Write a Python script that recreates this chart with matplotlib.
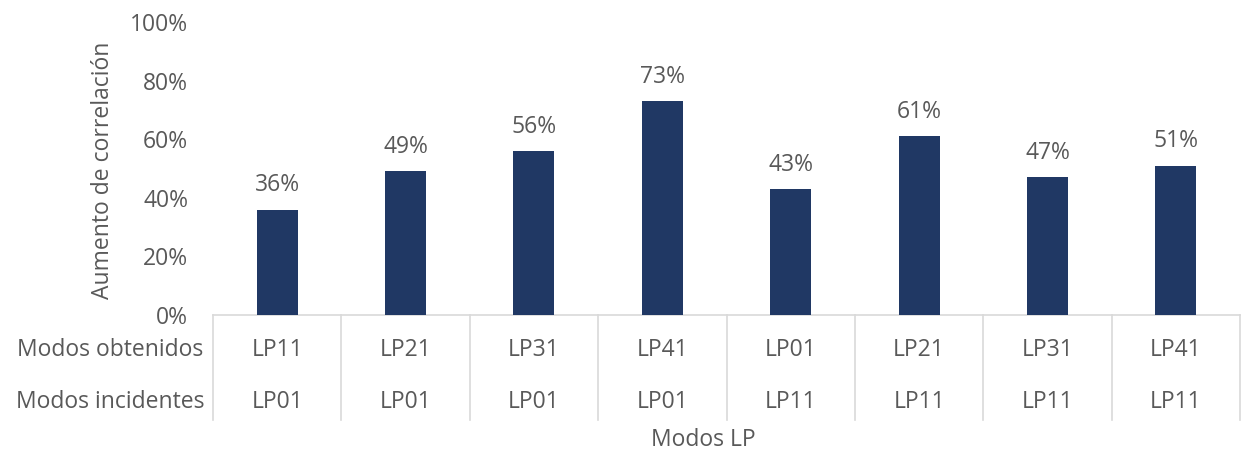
import matplotlib
matplotlib.use("Agg")
import matplotlib.pyplot as plt
import matplotlib.transforms as mtransforms

obtenidos = ["LP11", "LP21", "LP31", "LP41", "LP01", "LP21", "LP31", "LP41"]
incidentes = ["LP01", "LP01", "LP01", "LP01", "LP11", "LP11", "LP11", "LP11"]
values = [36, 49, 56, 73, 43, 61, 47, 51]
yticks = [0, 20, 40, 60, 80, 100]

plt.rcParams['font.family'] = ['Open Sans', 'DejaVu Sans']
txt = '#595959'
grid = '#d9d9d9'
bar_color = '#203864'
fs = 16.5

W, H = 1241, 453
fig = plt.figure(figsize=(W / 100, H / 100), dpi=100)
x0, x1 = 213, 1240
y0, y1 = 315, 22
ax = fig.add_axes([x0 / W, 1 - y0 / H, (x1 - x0) / W, (y0 - y1) / H])

xs = list(range(len(values)))
ax.bar(xs, values, width=0.32, color=bar_color, zorder=3)
for x, v in zip(xs, values):
    ax.annotate(f"{v}%", (x, v), xytext=(0, 17.5), textcoords='offset points',
                ha='center', va='center', fontsize=fs, color=txt)

ax.set_xlim(-0.5, len(values) - 0.5)
ax.set_ylim(0, 100)
ax.set_yticks(yticks)
ax.set_yticklabels([f"{t}%" for t in yticks])
ax.tick_params(axis='y', length=0, labelsize=fs, labelcolor=txt, pad=18)
ax.set_xticks([])
for s in ['top', 'right', 'left']:
    ax.spines[s].set_visible(False)
ax.spines['bottom'].set_color(grid)
ax.spines['bottom'].set_linewidth(1.2)

fig.text(103 / W, 1 - 170 / H, "Aumento de correlación", rotation=90,
         ha='center', va='center', fontsize=fs, color=txt)

ph = y0 - y1
def fy(py):
    return (y0 - py) / ph

trans = mtransforms.blended_transform_factory(ax.transData, ax.transAxes)
for i in range(len(values) + 1):
    ax.plot([i - 0.5, i - 0.5], [0, fy(420)], transform=trans, color=grid,
            lw=1.2, clip_on=False)
for i in xs:
    ax.text(i, fy(350), obtenidos[i], transform=trans, ha='center', va='center',
            fontsize=fs, color=txt)
    ax.text(i, fy(402), incidentes[i], transform=trans, ha='center', va='center',
            fontsize=fs, color=txt)

fig.text(203 / W, 1 - 350 / H, "Modos obtenidos", ha='right', va='center',
         fontsize=fs, color=txt)
fig.text(205 / W, 1 - 402 / H, "Modos incidentes", ha='right', va='center',
         fontsize=fs, color=txt)
fig.text(703 / W, 1 - 440 / H, "Modos LP", ha='center', va='center',
         fontsize=fs, color=txt)

fig.savefig("out.png", dpi=100)
